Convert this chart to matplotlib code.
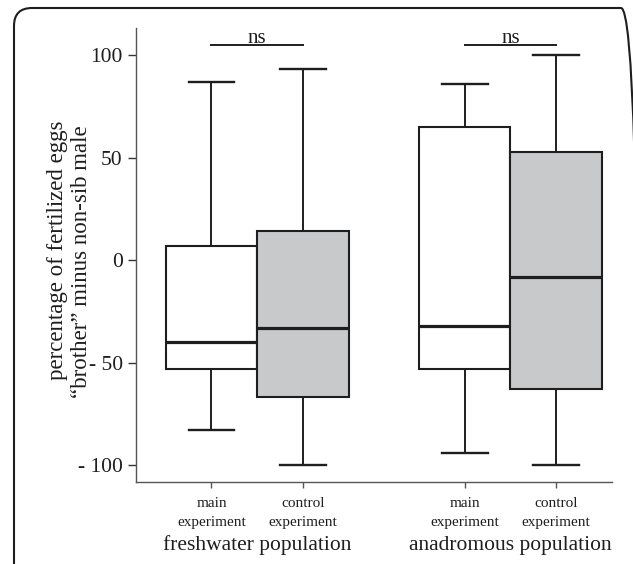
import matplotlib

matplotlib.use("Agg")
import matplotlib.pyplot as plt
from matplotlib.patches import FancyBboxPatch
from matplotlib.transforms import IdentityTransform, blended_transform_factory

# box summaries (percentage points)
positions = [1.0, 2.0, 3.77, 4.77]
tick_labels = ["main\nexperiment", "control\nexperiment", "main\nexperiment", "control\nexperiment"]
whislo = [-83, -100, -94, -100]
q1 = [-53, -67, -53, -63]
med = [-40, -33, -32, -8.5]
q3 = [7, 14, 65, 52.5]
whishi = [87, 93, 86, 100]
fills = ["white", "#c8c9cb", "white", "#c8c9cb"]

groups = ["freshwater population", "anadromous population"]
group_pairs = [(0, 1), (2, 3)]
sig_level = 105
sig_text = "ns"

yticks = [-100, -50, 0, 50, 100]
ytick_labels = ["- 100", "- 50", "0", "50", "100"]
ylabel_lines = ["percentage of fertilized eggs", "\u201cbrother\u201d minus non-sib male"]

plt.rcParams["font.family"] = ["Liberation Serif", "DejaVu Serif"]
ink = "#1e1e1e"

fig = plt.figure(figsize=(6.33, 5.64), dpi=100)
ax = fig.add_axes([136 / 633, 1 - 482 / 564, 476 / 633, 454 / 564])

stats = []
for i in range(len(positions)):
    stats.append({"whislo": whislo[i], "q1": q1[i], "med": med[i],
                  "q3": q3[i], "whishi": whishi[i], "fliers": []})

bp = ax.bxp(stats, positions=positions, widths=1.0, patch_artist=True,
            showfliers=False, capwidths=0.5,
            boxprops=dict(edgecolor=ink, linewidth=1.5),
            whiskerprops=dict(color=ink, linewidth=1.4),
            capprops=dict(color=ink, linewidth=1.7),
            medianprops=dict(color=ink, linewidth=2.3))
for box, c in zip(bp["boxes"], fills):
    box.set_facecolor(c)

# significance brackets
for a, b in group_pairs:
    ax.plot([positions[a], positions[b]], [sig_level, sig_level], color=ink, lw=1.4)
    ax.text((positions[a] + positions[b]) / 2, sig_level + 1.1, sig_text,
            ha="center", va="baseline", fontsize=15, color=ink)

ax.set_xlim(0.174, 5.382)
ax.set_ylim(-108.3, 113.2)
ax.set_yticks(yticks)
ax.set_yticklabels(ytick_labels)
ax.set_xticks(positions)
ax.set_xticklabels(tick_labels, fontsize=11, linespacing=1.55)
ax.tick_params(axis="y", length=6, width=1, pad=3.5, labelsize=15.5, colors="#333333",
               labelcolor=ink)
ax.tick_params(axis="x", length=4.5, width=1, pad=6.5, colors="#555555", labelcolor=ink)
for s in ["top", "right"]:
    ax.spines[s].set_visible(False)
for s in ["left", "bottom"]:
    ax.spines[s].set_color("#555555")
    ax.spines[s].set_linewidth(1.0)

# two-line y label, placed line by line (baseline x and centre y in pixels from top-left)
for line, xpx, ypx in zip(ylabel_lines, [62.5, 87], [250, 262]):
    fig.text(xpx / 633, 1 - ypx / 564, line, rotation=90, rotation_mode="anchor",
             ha="center", va="baseline", fontsize=16.5, color=ink)

trans = blended_transform_factory(ax.transData, ax.transAxes)
for name, (a, b) in zip(groups, group_pairs):
    ax.text((positions[a] + positions[b]) / 2, -0.139, name, transform=trans,
            ha="center", va="center", fontsize=15.5, color=ink)

# rounded frame around the panel; its right and bottom sides fall outside the image
frame = FancyBboxPatch((14, -40), 625, 596, boxstyle="round,pad=0,rounding_size=18",
                       transform=IdentityTransform(), fill=False, edgecolor=ink, lw=1.5)
fig.add_artist(frame)

fig.savefig("out.png", dpi=100)
